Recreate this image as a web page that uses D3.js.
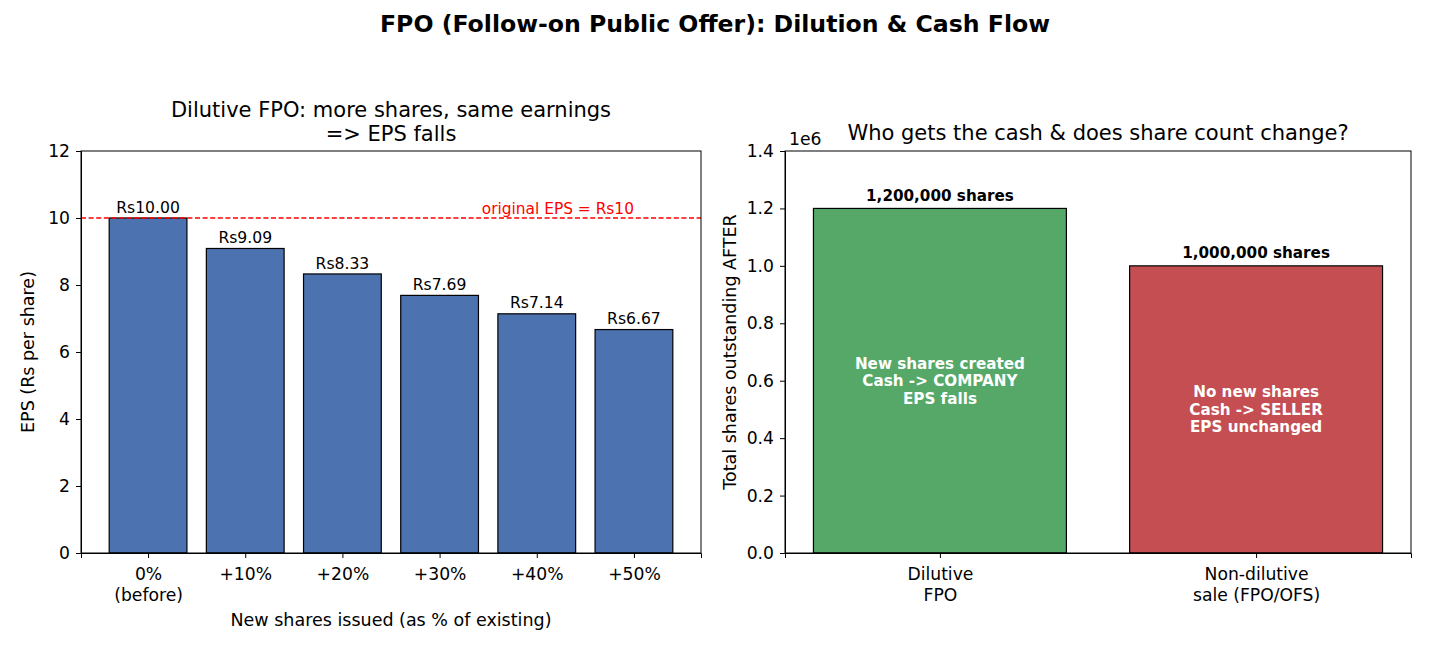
<!DOCTYPE html>
<html>
<head>
<meta charset="utf-8">
<script src="https://cdn.jsdelivr.net/npm/d3@7"></script>
<style>
	body { margin: 0; background: #fff; }
	svg, svg text { font-family: "DejaVu Sans", sans-serif; }
	.tick text { font-size: 17.2px; fill: #000; font-family: "DejaVu Sans", sans-serif; }
	.tick line, .domain { stroke: #000; }
</style>
</head>
<body>
<div id="chart"></div>
<script>
// Left panel data
var epsCategories = [ '0%\n(before)', '+10%', '+20%', '+30%', '+40%', '+50%' ];
var epsValues = [ 10.00, 9.09, 8.33, 7.69, 7.14, 6.67 ];
var epsTicks = [ 0, 2, 4, 6, 8, 10, 12 ];
var originalEps = 10;

// Right panel data
var saleCategories = [ 'Dilutive\nFPO', 'Non-dilutive\nsale (FPO/OFS)' ];
var shareValues = [ 1200000, 1000000 ];
var shareLabels = [ '1,200,000 shares', '1,000,000 shares' ];
var shareNotes = [
	[ 'New shares created', 'Cash -> COMPANY', 'EPS falls' ],
	[ 'No new shares', 'Cash -> SELLER', 'EPS unchanged' ]
];
var shareTicks = [ 0, 0.2e6, 0.4e6, 0.6e6, 0.8e6, 1.0e6, 1.2e6, 1.4e6 ];

var colors = { blue: '#4c72b0', green: '#55a868', red: '#c44e52' };

var width = 1430, height = 650;
var svg = d3.select( '#chart' ).append( 'svg' ).attr( 'width', width ).attr( 'height', height );

// Suptitle
svg.append( 'text' )
	.attr( 'x', 715 ).attr( 'y', 32 )
	.attr( 'text-anchor', 'middle' )
	.style( 'font-size', '23.6px' ).style( 'font-weight', 'bold' )
	.text( 'FPO (Follow-on Public Offer): Dilution & Cash Flow' );

// Multi-line tick labels
var wrapTicks = function ( g ) {
	g.selectAll( '.tick text' ).each( function () {
		var t = d3.select( this );
		var lines = t.text().split( '\n' );
		t.text( null );
		lines.forEach( function ( line, i ) {
			t.append( 'tspan' ).attr( 'x', 0 ).attr( 'dy', i === 0 ? '0.71em' : '1.2em' ).text( line );
		} );
	} );
};

// ---- Left panel ----
var L = { left: 81, right: 701, top: 151, bottom: 553 };
var xL = d3.scaleLinear().domain( [ -0.69, 5.69 ] ).range( [ L.left, L.right ] );
var yL = d3.scaleLinear().domain( [ 0, 12 ] ).range( [ L.bottom, L.top ] );
var gL = svg.append( 'g' );

gL.selectAll( 'rect.bar' )
	.data( epsValues )
	.enter()
	.append( 'rect' )
	.attr( 'class', 'bar' )
	.attr( 'x', function ( d, i ) { return xL( i - 0.4 ); } )
	.attr( 'width', function () { return xL( 0.4 ) - xL( -0.4 ); } )
	.attr( 'y', function ( d ) { return yL( d ); } )
	.attr( 'height', function ( d ) { return yL( 0 ) - yL( d ); } )
	.attr( 'fill', colors.blue )
	.attr( 'stroke', '#000' ).attr( 'stroke-width', 1.2 );

gL.selectAll( 'text.val' )
	.data( epsValues )
	.enter()
	.append( 'text' )
	.attr( 'class', 'val' )
	.attr( 'x', function ( d, i ) { return xL( i ); } )
	.attr( 'y', function ( d ) { return yL( d + 0.1 ) - 2; } )
	.attr( 'text-anchor', 'middle' )
	.style( 'font-size', '15.6px' )
	.text( function ( d ) { return 'Rs' + d.toFixed( 2 ); } );

// Reference line
gL.append( 'line' )
	.attr( 'x1', L.left ).attr( 'x2', L.right )
	.attr( 'y1', yL( originalEps ) ).attr( 'y2', yL( originalEps ) )
	.attr( 'stroke', 'red' ).attr( 'stroke-width', 1.4 )
	.attr( 'stroke-dasharray', '5,2.6' );

gL.append( 'text' )
	.attr( 'x', xL( 5 ) ).attr( 'y', yL( originalEps + 0.1 ) - 1 )
	.attr( 'text-anchor', 'end' )
	.attr( 'fill', 'red' )
	.style( 'font-size', '15.4px' )
	.text( 'original EPS = Rs' + originalEps );

gL.append( 'g' )
	.attr( 'transform', 'translate(0,' + L.bottom + ')' )
	.call( d3.axisBottom( xL ).tickValues( d3.range( epsCategories.length ) ).tickFormat( function ( d ) { return epsCategories[d]; } ).tickSizeOuter( 0 ).tickSize( 5 ).tickPadding( 10 ) )
	.call( wrapTicks );

gL.append( 'g' )
	.attr( 'transform', 'translate(' + L.left + ',0)' )
	.call( d3.axisLeft( yL ).tickValues( epsTicks ).tickFormat( d3.format( 'd' ) ).tickSizeOuter( 0 ).tickSize( 5 ).tickPadding( 6 ) );

gL.append( 'rect' )
	.attr( 'x', L.left ).attr( 'y', L.top )
	.attr( 'width', L.right - L.left ).attr( 'height', L.bottom - L.top )
	.attr( 'fill', 'none' ).attr( 'stroke', '#000' );

gL.selectAll( 'text.title' )
	.data( [ 'Dilutive FPO: more shares, same earnings', '=> EPS falls' ] )
	.enter()
	.append( 'text' )
	.attr( 'x', ( L.left + L.right ) / 2 )
	.attr( 'y', function ( d, i ) { return 117 + i * 24; } )
	.attr( 'text-anchor', 'middle' )
	.style( 'font-size', '21px' )
	.text( function ( d ) { return d; } );

gL.append( 'text' )
	.attr( 'x', ( L.left + L.right ) / 2 ).attr( 'y', 626 )
	.attr( 'text-anchor', 'middle' )
	.style( 'font-size', '17.5px' )
	.text( 'New shares issued (as % of existing)' );

gL.append( 'text' )
	.attr( 'transform', 'translate(34,' + ( ( L.top + L.bottom ) / 2 ) + ') rotate(-90)' )
	.attr( 'text-anchor', 'middle' )
	.style( 'font-size', '17.5px' )
	.text( 'EPS (Rs per share)' );

// ---- Right panel ----
var R = { left: 785, right: 1411, top: 151, bottom: 553 };
var xR = d3.scaleLinear().domain( [ -0.49, 1.49 ] ).range( [ R.left, R.right ] );
var yR = d3.scaleLinear().domain( [ 0, 1.4e6 ] ).range( [ R.bottom, R.top ] );
var gR = svg.append( 'g' );
var barColors = [ colors.green, colors.red ];

gR.selectAll( 'rect.bar' )
	.data( shareValues )
	.enter()
	.append( 'rect' )
	.attr( 'class', 'bar' )
	.attr( 'x', function ( d, i ) { return xR( i - 0.4 ); } )
	.attr( 'width', function () { return xR( 0.4 ) - xR( -0.4 ); } )
	.attr( 'y', function ( d ) { return yR( d ); } )
	.attr( 'height', function ( d ) { return yR( 0 ) - yR( d ); } )
	.attr( 'fill', function ( d, i ) { return barColors[i]; } )
	.attr( 'stroke', '#000' ).attr( 'stroke-width', 1.2 );

gR.selectAll( 'text.val' )
	.data( shareValues )
	.enter()
	.append( 'text' )
	.attr( 'class', 'val' )
	.attr( 'x', function ( d, i ) { return xR( i ); } )
	.attr( 'y', function ( d ) { return yR( d + 0.02e6 ) - 2; } )
	.attr( 'text-anchor', 'middle' )
	.style( 'font-size', '15.2px' ).style( 'font-weight', 'bold' )
	.text( function ( d, i ) { return shareLabels[i]; } );

// Notes inside the bars
shareNotes.forEach( function ( lines, i ) {
	var cy = yR( shareValues[i] / 2 );
	lines.forEach( function ( line, j ) {
		gR.append( 'text' )
			.attr( 'x', xR( i ) )
			.attr( 'y', cy + ( j - 1 ) * 17.5 )
			.attr( 'dy', '0.35em' )
			.attr( 'text-anchor', 'middle' )
			.attr( 'fill', '#fff' )
			.style( 'font-size', '15.2px' ).style( 'font-weight', 'bold' )
			.text( line );
	} );
} );

gR.append( 'g' )
	.attr( 'transform', 'translate(0,' + R.bottom + ')' )
	.call( d3.axisBottom( xR ).tickValues( d3.range( saleCategories.length ) ).tickFormat( function ( d ) { return saleCategories[d]; } ).tickSizeOuter( 0 ).tickSize( 5 ).tickPadding( 10 ) )
	.call( wrapTicks );

gR.append( 'g' )
	.attr( 'transform', 'translate(' + R.left + ',0)' )
	.call( d3.axisLeft( yR ).tickValues( shareTicks ).tickFormat( function ( d ) { return ( d / 1e6 ).toFixed( 1 ); } ).tickSizeOuter( 0 ).tickSize( 5 ).tickPadding( 6 ) );

gR.append( 'rect' )
	.attr( 'x', R.left ).attr( 'y', R.top )
	.attr( 'width', R.right - R.left ).attr( 'height', R.bottom - R.top )
	.attr( 'fill', 'none' ).attr( 'stroke', '#000' );

gR.append( 'text' )
	.attr( 'x', R.left + 4 ).attr( 'y', 145 )
	.style( 'font-size', '17.2px' )
	.text( '1e6' );

gR.append( 'text' )
	.attr( 'x', ( R.left + R.right ) / 2 ).attr( 'y', 140 )
	.attr( 'text-anchor', 'middle' )
	.style( 'font-size', '21px' )
	.text( 'Who gets the cash & does share count change?' );

gR.append( 'text' )
	.attr( 'transform', 'translate(736,' + ( ( R.top + R.bottom ) / 2 ) + ') rotate(-90)' )
	.attr( 'text-anchor', 'middle' )
	.style( 'font-size', '17.5px' )
	.text( 'Total shares outstanding AFTER' );
</script>
</body>
</html>
